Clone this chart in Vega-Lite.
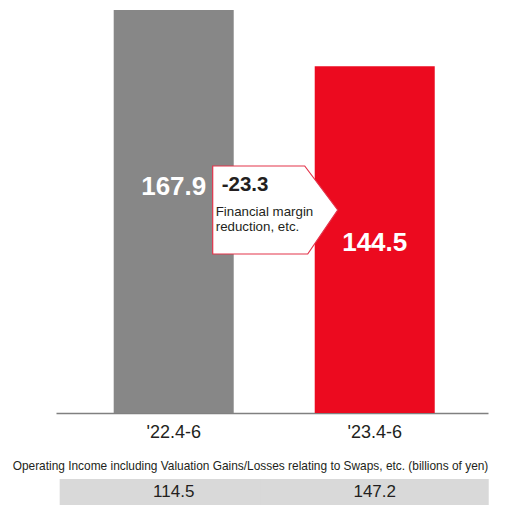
{
  "$schema": "https://vega.github.io/schema/vega-lite/v6.json",
  "autosize": "none",
  "width": 432,
  "height": 413,
  "padding": {"left": 56, "top": 0, "right": 36, "bottom": 92},
  "background": "white",
  "config": {"view": {"stroke": null}, "font": "Liberation Sans"},
  "datasets": {
    "periods": [
      {"period": "'22.4-6", "income": 167.9, "withSwaps": 114.5},
      {"period": "'23.4-6", "income": 144.5, "withSwaps": 147.2}
    ],
    "callout": [
      {"from": "'22.4-6", "change": "-23.3", "note": "Financial margin\nreduction, etc."}
    ]
  },
  "encoding": {
    "x": {
      "field": "period",
      "type": "nominal",
      "sort": null,
      "scale": {"paddingInner": 0.403, "paddingOuter": 0.276, "align": 0.52},
      "axis": {
        "title": "Operating Income including Valuation Gains/Losses relating to Swaps, etc. (billions of yen)",
        "titleFontSize": 11.9,
        "titleFontWeight": "normal",
        "titleColor": "#231f20",
        "titleX": 194,
        "titleY": 52,
        "titleAlign": "center",
        "titleBaseline": "middle",
        "labelAngle": 0,
        "labelFontSize": 18,
        "labelColor": "#231f20",
        "labelPadding": 10,
        "ticks": false,
        "domainColor": "#808080",
        "domainWidth": 1.5
      }
    }
  },
  "layer": [
    {
      "data": {"name": "periods"},
      "mark": {"type": "bar", "width": {"band": 1}},
      "encoding": {
        "y": {"field": "income", "type": "quantitative", "scale": {"domain": [0, 172.1], "nice": false}, "axis": null},
        "color": {"field": "period", "type": "nominal", "scale": {"range": ["#878787", "#ec0a1f"]}, "legend": null}
      }
    },
    {
      "data": {"name": "periods"},
      "mark": {"type": "text", "color": "white", "fontSize": 26, "fontWeight": "bold", "baseline": "middle", "dy": 177},
      "encoding": {
        "y": {"field": "income", "type": "quantitative"},
        "text": {"field": "income", "type": "quantitative", "format": ".1f"}
      }
    },
    {
      "data": {"name": "callout"},
      "mark": {
        "type": "point",
        "shape": "M-1,-0.704L0.472,-0.704L1,0L0.52,0.704L-1,0.704Z",
        "size": 15625,
        "filled": true,
        "fill": "white",
        "stroke": "#e3344b",
        "strokeWidth": 1.2,
        "opacity": 1,
        "xOffset": 101.5
      },
      "encoding": {
        "x": {"field": "from", "type": "nominal"},
        "y": {"datum": 84.6, "type": "quantitative"}
      }
    },
    {
      "data": {"name": "callout"},
      "mark": {"type": "text", "align": "left", "baseline": "middle", "fontSize": 20.5, "fontWeight": "bold", "color": "#231f20", "xOffset": 48, "dy": -25},
      "encoding": {
        "x": {"field": "from", "type": "nominal"},
        "y": {"datum": 84.6, "type": "quantitative"},
        "text": {"field": "change"}
      }
    },
    {
      "data": {"name": "callout"},
      "mark": {"type": "text", "align": "left", "baseline": "middle", "fontSize": 13.3, "color": "#231f20", "lineBreak": "\n", "lineHeight": 15.5, "xOffset": 42, "dy": 2},
      "encoding": {
        "x": {"field": "from", "type": "nominal"},
        "y": {"datum": 84.6, "type": "quantitative"},
        "text": {"field": "note"}
      }
    },
    {
      "data": {"name": "periods"},
      "mark": {"type": "bar", "color": "#d9d9d9", "width": {"band": 1.9}},
      "encoding": {
        "y": {"datum": -27.5, "type": "quantitative"},
        "y2": {"datum": -38.4}
      }
    },
    {
      "data": {"name": "periods"},
      "mark": {"type": "text", "fontSize": 17, "color": "#231f20", "baseline": "middle"},
      "encoding": {
        "y": {"datum": -32.9, "type": "quantitative"},
        "text": {"field": "withSwaps", "type": "quantitative", "format": ".1f"}
      }
    }
  ]
}
